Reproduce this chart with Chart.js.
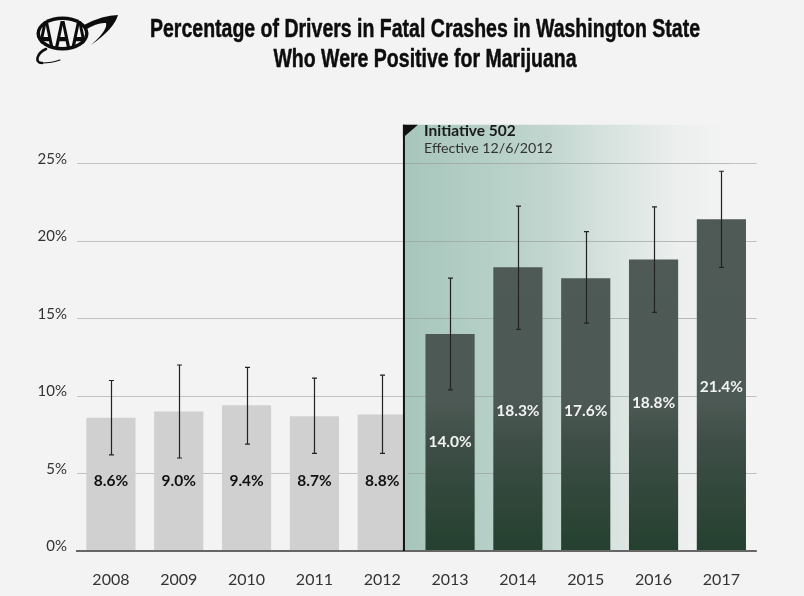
<!DOCTYPE html>
<html><head><meta charset="utf-8">
<style>html,body{margin:0;padding:0;background:#f3f3f3;}canvas{display:block;}</style>
<script src="https://cdn.jsdelivr.net/npm/chart.js@4"></script>
</head><body><canvas id="c" width="804" height="596"></canvas>
<script>
const years = ['2008','2009','2010','2011','2012','2013','2014','2015','2016','2017'];
const rates = [8.6,9.0,9.4,8.7,8.8,14.0,18.3,17.6,18.8,21.4];
const lowerBounds = [6.2,6.0,6.9,6.3,6.3,10.4,14.3,14.7,15.4,18.3];
const upperBounds = [11.0,12.0,11.85,11.15,11.35,17.6,22.25,20.6,22.2,24.5];
const labelAnchors = [4.5,4.5,4.5,4.5,4.5,7.05,9.05,9.05,9.53,10.56];
const titleLines = ['Percentage of Drivers in Fatal Crashes in Washington State','Who Were Positive for Marijuana'];
const noteTitle = 'Initiative 502';
const noteSub = 'Effective 12/6/2012';
const logoText = 'AAA';
const firstAfterIndex = 5;
const markerIndex = 4.32;
const uiFont = 'Lato';

function barColor(ctx){
  if(ctx.dataIndex < firstAfterIndex) return '#d0d0d0';
  const c = ctx.chart, y = c.scales.y;
  if(!c.chartArea) return '#3a4f45';
  const g = c.ctx.createLinearGradient(0,y.getPixelForValue(21.4),0,y.getPixelForValue(0));
  g.addColorStop(0,'#4f5a56');
  g.addColorStop(0.545,'#4d5954');
  g.addColorStop(0.665,'#3f4f48');
  g.addColorStop(0.786,'#35493e');
  g.addColorStop(1,'#24402f');
  return g;
}
function bandGradient(ctx,left,right){
  const g = ctx.createLinearGradient(left,0,right,0);
  g.addColorStop(0,'#a7c6bb');
  g.addColorStop(0.22,'#b3cec5');
  g.addColorStop(0.43,'#c0d5ce');
  g.addColorStop(0.635,'#d8e3df');
  g.addColorStop(0.84,'#ecefee');
  g.addColorStop(1,'#f3f3f3');
  return g;
}
function drawLogo(ctx){
  const cx=62.5, cy=33.5;
  ctx.save();
  ctx.fillStyle='#0c0c0c';ctx.strokeStyle='#0c0c0c';
  ctx.beginPath();ctx.moveTo(84,25);ctx.quadraticCurveTo(103,15,118,15);ctx.quadraticCurveTo(114,29,91,45);
  ctx.quadraticCurveTo(108,30,106,23);ctx.quadraticCurveTo(98,22,85,30);ctx.closePath();ctx.fill();
  ctx.lineWidth=2.6;ctx.lineCap='round';
  ctx.beginPath();ctx.moveTo(46,49);ctx.bezierCurveTo(37,53,34,63,42,63);ctx.stroke();
  ctx.lineWidth=1.2;
  ctx.beginPath();ctx.moveTo(42,63);ctx.quadraticCurveTo(52,63,60,60);ctx.stroke();
  ctx.beginPath();ctx.ellipse(cx,cy,26,17,0,0,Math.PI*2);ctx.fill();
  ctx.fillStyle='#f3f3f3';
  ctx.beginPath();ctx.ellipse(cx,cy,22.5,13.5,0,0,Math.PI*2);ctx.fill();
  ctx.beginPath();ctx.ellipse(cx,cy,26,17,0,0,Math.PI*2);ctx.clip();
  ctx.fillStyle='#0c0c0c';ctx.textAlign='center';ctx.textBaseline='alphabetic';
  ctx.font='700 38px "Liberation Sans"';
  const s=50/ctx.measureText(logoText).width;
  ctx.translate(cx,cy+14.5);ctx.scale(s,1);
  ctx.fillText(logoText,0,0);
  ctx.restore();
}
function drawTitle(ctx){
  ctx.save();
  ctx.fillStyle='#0d0d0d';ctx.strokeStyle='#0d0d0d';ctx.lineWidth=0.5;ctx.lineJoin='round';
  ctx.textAlign='center';ctx.textBaseline='middle';
  ctx.font='700 26px "Liberation Sans"';
  const s=550/ctx.measureText(titleLines[0]).width;
  titleLines.forEach((t,i)=>{
    ctx.save();ctx.translate(425,30+i*30);ctx.scale(s,1);ctx.fillText(t,0,0);ctx.strokeText(t,0,0);ctx.restore();
  });
  ctx.restore();
}
const shade = {
  id:'shade',
  beforeDatasetsDraw(c){
    const {ctx,chartArea:a,scales:{x,y}} = c;
    const left = x.getPixelForValue(markerIndex), right = 730;
    ctx.save();
    ctx.fillStyle = bandGradient(ctx,left,right);
    ctx.fillRect(left,a.top,right-left,a.bottom-a.top);
    ctx.lineWidth = 1;
    for(const t of y.ticks){ if(t.value===0) continue;
      const p = Math.round(y.getPixelForValue(t.value)-0.5)+0.5;
      ctx.strokeStyle = 'rgba(150,158,154,0.65)';
      ctx.beginPath(); ctx.moveTo(left,p); ctx.lineTo(right,p); ctx.stroke();
      ctx.strokeStyle = '#c2c2c2';
      ctx.beginPath(); ctx.moveTo(right,p); ctx.lineTo(a.right+1.5,p); ctx.stroke();
    }
    ctx.restore();
  },
  afterDatasetsDraw(c){
    const {ctx,chartArea:a,scales:{x,y}} = c;
    const left = x.getPixelForValue(markerIndex);
    const bar = c.getDatasetMeta(0).data[firstAfterIndex-1];
    ctx.save();
    // band covers the end of the last bar before the marker
    ctx.fillStyle = bandGradient(ctx,left,730);
    ctx.fillRect(left,bar.y-1,bar.x+bar.width/2-left+1,a.bottom-bar.y+1);
    // baseline sits on top of the bars
    ctx.fillStyle='#666';ctx.fillRect(a.left,a.bottom-1,a.right+1.5-a.left,2);
    // error bars
    ctx.strokeStyle='#222'; ctx.lineWidth=1.2;
    years.forEach((_,i)=>{
      const px = Math.round(x.getPixelForValue(i))+0.5, lo=y.getPixelForValue(lowerBounds[i]), hi=y.getPixelForValue(upperBounds[i]);
      ctx.beginPath();
      ctx.moveTo(px,lo);ctx.lineTo(px,hi);
      ctx.moveTo(px-2.5,lo);ctx.lineTo(px+2.5,lo);
      ctx.moveTo(px-2.5,hi);ctx.lineTo(px+2.5,hi);
      ctx.stroke();
    });
    // value labels
    ctx.textAlign='center';ctx.textBaseline='middle';
    ctx.font='700 15.5px '+uiFont;
    years.forEach((_,i)=>{
      ctx.fillStyle = i<firstAfterIndex ? '#111' : '#f2f2f2';
      ctx.fillText(rates[i].toFixed(1)+'%',x.getPixelForValue(i),y.getPixelForValue(labelAnchors[i]));
    });
    // event marker
    ctx.strokeStyle='#111';ctx.lineWidth=2;
    ctx.beginPath();ctx.moveTo(left,a.top);ctx.lineTo(left,a.bottom);ctx.stroke();
    ctx.fillStyle='#111';
    ctx.beginPath();ctx.moveTo(left-1,a.top);ctx.lineTo(left+14,a.top);ctx.lineTo(left-1,a.top+13);ctx.closePath();ctx.fill();
    ctx.textAlign='left';ctx.textBaseline='alphabetic';
    ctx.font='700 15.5px '+uiFont;ctx.fillStyle='#1a1a1a';
    ctx.fillText(noteTitle,424,136);
    ctx.font='400 14.2px '+uiFont;ctx.fillStyle='#333';
    ctx.fillText(noteSub,424,152.5);
    drawLogo(ctx);
    drawTitle(ctx);
    ctx.restore();
  }
};
new Chart(document.getElementById('c'),{
  type:'bar',
  data:{labels:years,datasets:[{data:rates,backgroundColor:barColor,barPercentage:0.725,categoryPercentage:1}]},
  plugins:[shade],
  options:{
    responsive:false,animation:false,
    layout:{padding:{left:0,right:48.7,top:124.75,bottom:0}},
    plugins:{legend:{display:false},tooltip:{enabled:false},title:{display:false}},
    scales:{
      x:{afterFit(s){s.height=45;},grid:{display:false,drawTicks:false},border:{color:'#666',width:2},
        ticks:{color:'#333',font:{family:uiFont,size:16},padding:19,maxRotation:0}},
      y:{afterFit(s){s.width=77;},min:0,max:27.5,afterBuildTicks(s){s.ticks=[0,5,10,15,20,25].map(v=>({value:v}));},
        grid:{color:c=>c.tick.value===0?'rgba(0,0,0,0)':'#c2c2c2',lineWidth:1,drawTicks:false},border:{display:false},
        ticks:{color:'#333',font:{family:uiFont,size:15},padding:10,labelOffset:-4.5,callback:v=>v+'%'}}
    }
  }
});
</script></body></html>
